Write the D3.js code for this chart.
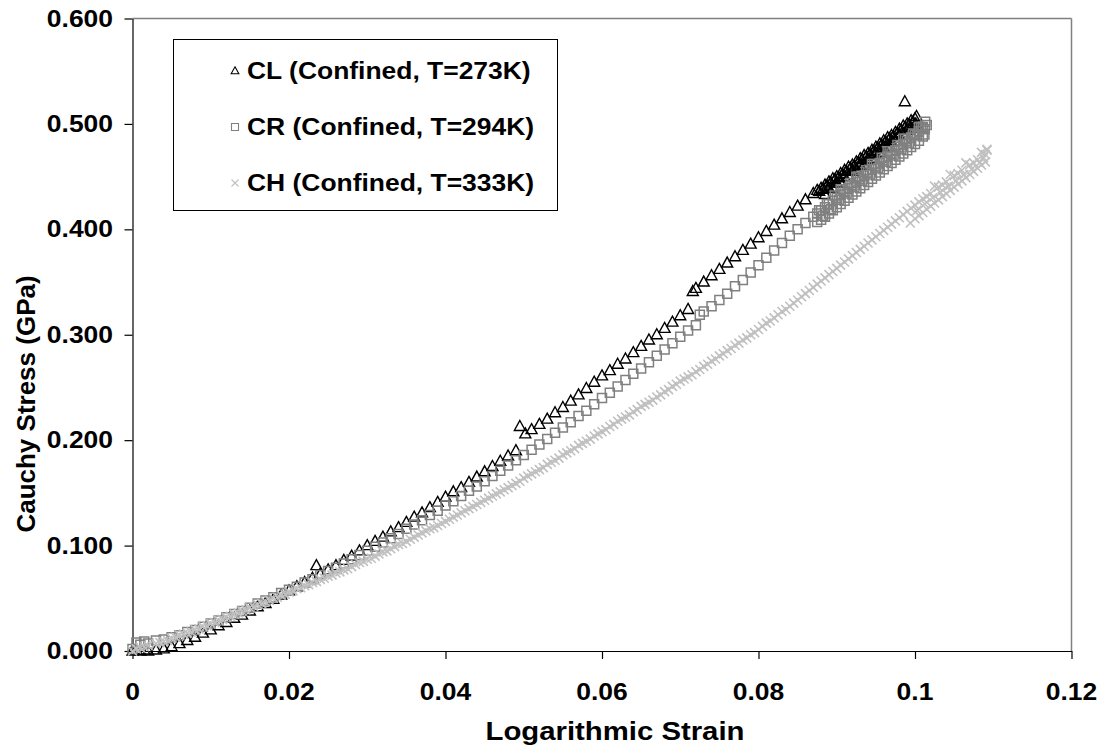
<!DOCTYPE html>
<html><head><meta charset="utf-8">
<script src="https://cdn.jsdelivr.net/npm/d3@7"></script>
<style>
html,body{margin:0;padding:0;background:#fff;}
svg{display:block;}
text{font-family:"Liberation Sans",Arial,sans-serif;font-weight:bold;fill:#000;}
</style></head>
<body>
<svg id="chart" width="1107" height="752"></svg>
<script>
// ---------- data ----------
const xTicks = [0, 0.02, 0.04, 0.06, 0.08, 0.1, 0.12];
const xTickLabels = ["0", "0.02", "0.04", "0.06", "0.08", "0.1", "0.12"];
const yTicks = [0, 0.1, 0.2, 0.3, 0.4, 0.5, 0.6];
const yTickLabels = ["0.000", "0.100", "0.200", "0.300", "0.400", "0.500", "0.600"];
const seriesNames = ["CL (Confined, T=273K)", "CR (Confined, T=294K)", "CH (Confined, T=333K)"];

const clStrain = [0,0.0005,0.001,0.0015,0.002,0.003,0.004,0.005,0.006,0.007,0.008,0.009,0.010,0.011,0.012,0.013,0.014,0.015,0.016,0.017,0.018,0.019,0.020,0.021,0.022,0.023,0.0235,0.024,0.025,0.026,0.027,0.028,0.029,0.030,0.031,0.032,0.033,0.034,0.035,0.036,0.037,0.038,0.039,0.040,0.041,0.042,0.043,0.044,0.045,0.046,0.047,0.048,0.049,0.0495,0.0502,0.051,0.052,0.053,0.054,0.055,0.056,0.057,0.058,0.059,0.060,0.061,0.062,0.063,0.064,0.065,0.066,0.067,0.068,0.069,0.070,0.071,0.0716,0.072,0.073,0.074,0.075,0.076,0.077,0.078,0.079,0.080,0.081,0.082,0.083,0.084,0.085,0.086,0.087,0.088,0.089,0.090,0.091,0.092,0.093,0.094,0.095,0.096,0.097,0.098,0.0987,0.099,0.100,0.1002,
  0.0885,0.0895,0.0905,0.0915,0.0925,0.0935,0.0945,0.0955,0.0965,0.0975,0.0985,0.0995,0.1001,
  0.0875,0.0885,0.0895,0.0905,0.0915,0.0925,0.0935,0.0945,0.0955,0.0965,0.0975,0.0985,0.0995,
  0.089,0.090,0.091,0.092,0.093,0.094,0.095,0.096,0.097,0.098,0.099,0.100,
  0.08825,0.08925,0.09025,0.09125,0.09225,0.09325,0.09425,0.09525,0.09625,0.09725,0.09825,0.09925,
  0.08775,0.08875,0.08975,0.09075,0.09175,0.09275,0.09375,0.09475,0.09575,0.09675,0.09775,0.09875,0.09975];
const clStress = [0,0.001,0,0.001,0,0.001,0.002,0.004,0.007,0.010,0.013,0.017,0.020,0.024,0.027,0.031,0.034,0.038,0.042,0.045,0.049,0.053,0.057,0.061,0.065,0.069,0.081,0.073,0.077,0.081,0.086,0.090,0.095,0.100,0.104,0.108,0.113,0.117,0.122,0.127,0.131,0.136,0.141,0.146,0.151,0.155,0.160,0.165,0.170,0.175,0.180,0.185,0.190,0.213,0.206,0.210,0.215,0.220,0.226,0.231,0.237,0.243,0.249,0.255,0.261,0.266,0.272,0.277,0.283,0.289,0.295,0.300,0.306,0.312,0.318,0.324,0.341,0.344,0.350,0.356,0.362,0.368,0.374,0.380,0.386,0.392,0.398,0.404,0.410,0.416,0.422,0.428,0.434,0.439,0.445,0.450,0.456,0.461,0.467,0.472,0.478,0.484,0.489,0.495,0.521,0.500,0.505,0.507,
  0.433,0.439,0.444,0.450,0.456,0.461,0.467,0.473,0.478,0.484,0.490,0.496,0.500,
  0.437,0.442,0.448,0.453,0.459,0.464,0.470,0.475,0.481,0.487,0.492,0.498,0.503,
  0.439,0.444,0.450,0.455,0.461,0.466,0.472,0.478,0.483,0.489,0.494,0.499,
  0.438,0.444,0.449,0.455,0.460,0.466,0.471,0.477,0.483,0.488,0.494,0.499,
  0.436,0.441,0.447,0.452,0.458,0.463,0.469,0.474,0.480,0.486,0.491,0.497,0.502];

const crStrain = [0,0.0005,0.001,0.0015,0.002,0.003,0.004,0.005,0.006,0.007,0.008,0.009,0.010,0.011,0.012,0.013,0.014,0.015,0.016,0.017,0.018,0.019,0.020,0.021,0.022,0.023,0.024,0.025,0.026,0.027,0.028,0.029,0.030,0.031,0.032,0.033,0.034,0.035,0.036,0.037,0.038,0.039,0.040,0.041,0.042,0.043,0.044,0.045,0.046,0.047,0.048,0.049,0.050,0.051,0.052,0.053,0.054,0.055,0.056,0.057,0.058,0.059,0.060,0.061,0.062,0.063,0.064,0.065,0.066,0.067,0.068,0.069,0.070,0.071,0.072,0.0725,0.073,0.074,0.075,0.076,0.077,0.078,0.079,0.080,0.081,0.082,0.083,0.084,0.085,0.086,0.087,0.088,0.089,0.090,0.091,0.092,0.093,0.094,0.095,0.096,0.097,0.098,0.099,0.100,0.101,0.1015,
  0.0875,0.0885,0.0895,0.0905,0.0915,0.0925,0.0935,0.0945,0.0955,0.0965,0.0975,0.0985,0.0995,0.1005,0.1012,
  0.0905,0.0925,0.0945,0.0965,0.0985,0.1005,0.1013,
  0.0875,0.0885,0.0895,0.0905,0.0915,0.0925,0.0935,0.0945,0.0955,0.0965,0.0975,0.0985,0.0995,0.1005,0.1010,
  0.088,0.089,0.090,0.091,0.092,0.093,0.094,0.095,0.096,0.097,0.098,0.099,0.100,0.101,
  0.08825,0.08925,0.09025,0.09125,0.09225,0.09325,0.09425,0.09525,0.09625,0.09725,0.09825,0.09925,0.10025,0.10125,
  0.08775,0.08875,0.08975,0.09075,0.09175,0.09275,0.09375,0.09475,0.09575,0.09675,0.09775,0.09875,0.09975,0.10075];
const crStress = [0.002,0.008,0.006,0.009,0.007,0.010,0.011,0.013,0.015,0.018,0.020,0.023,0.026,0.029,0.032,0.035,0.038,0.041,0.045,0.048,0.051,0.055,0.058,0.061,0.065,0.068,0.072,0.076,0.079,0.083,0.087,0.091,0.095,0.099,0.103,0.107,0.111,0.116,0.120,0.124,0.129,0.133,0.138,0.142,0.147,0.152,0.156,0.161,0.166,0.171,0.176,0.181,0.186,0.191,0.196,0.201,0.207,0.212,0.217,0.223,0.228,0.234,0.240,0.245,0.251,0.257,0.263,0.268,0.274,0.280,0.286,0.292,0.298,0.304,0.309,0.319,0.322,0.327,0.333,0.339,0.346,0.352,0.359,0.366,0.373,0.380,0.387,0.394,0.400,0.406,0.412,0.418,0.424,0.430,0.436,0.442,0.448,0.454,0.460,0.466,0.472,0.478,0.484,0.490,0.496,0.499,
  0.407,0.412,0.418,0.424,0.430,0.436,0.442,0.448,0.454,0.460,0.466,0.472,0.478,0.484,0.490,
  0.438,0.450,0.462,0.474,0.486,0.497,0.502,
  0.415,0.421,0.427,0.433,0.439,0.445,0.451,0.457,0.463,0.469,0.475,0.481,0.487,0.493,0.497,
  0.409,0.415,0.421,0.427,0.433,0.439,0.445,0.451,0.457,0.463,0.469,0.475,0.481,0.488,
  0.413,0.419,0.428,0.434,0.440,0.446,0.452,0.458,0.464,0.470,0.476,0.482,0.489,0.495,
  0.418,0.424,0.432,0.438,0.444,0.450,0.456,0.462,0.468,0.474,0.480,0.486,0.491,0.497];

const chStrain = [0,0.0005,0.001,0.0015,0.002,0.003,0.004,0.005,0.006,0.007,0.008,0.009,0.010,0.011,0.012,0.013,0.014,0.015,0.016,0.017,0.018,0.019,0.020,0.021,0.022,0.023,0.024,0.025,0.026,0.027,0.028,0.029,0.030,0.031,0.032,0.033,0.034,0.035,0.036,0.037,0.038,0.039,0.040,0.041,0.042,0.043,0.044,0.045,0.046,0.047,0.048,0.049,0.050,0.051,0.052,0.053,0.054,0.055,0.056,0.057,0.058,0.059,0.060,0.061,0.062,0.063,0.064,0.065,0.066,0.067,0.068,0.069,0.070,0.071,0.072,0.073,0.074,0.075,0.076,0.077,0.078,0.079,0.080,0.081,0.082,0.083,0.084,0.085,0.086,0.087,0.088,0.089,0.090,0.091,0.092,0.093,0.094,0.095,0.096,0.097,0.098,0.099,0.100,0.101,0.102,0.103,0.104,0.105,0.106,0.107,0.108,0.109,0.1092,
  0.0035,0.0045,0.0055,0.0065,0.0075,0.0085,0.0095,0.0105,0.0115,0.0125,0.0135,0.0145,0.0155,0.0165,0.0175,0.0185,0.0195,0.0205,0.0215,0.0225,0.0235,0.0245,0.0255,0.0265,0.0275,0.0285,0.0295,0.0305,0.0315,0.0325,0.0335,0.0345,0.0355,0.0365,0.0375,0.0385,0.0395,0.0405,0.0415,0.0425,0.0435,0.0445,0.0455,0.0465,0.0475,0.0485,0.0495,0.0505,0.0515,0.0525,0.0535,0.0545,0.0555,0.0565,0.0575,0.0585,0.0595,0.0605,0.0615,0.0625,0.0635,0.0645,0.0655,0.0665,0.0675,0.0685,0.0695,0.0705,0.0715,0.0725,0.0735,0.0745,0.0755,0.0765,0.0775,0.0785,0.0795,0.0805,0.0815,0.0825,0.0835,0.0845,0.0855,0.0865,0.0875,0.0885,0.0895,0.0905,0.0915,0.0925,0.0935,0.0945,0.0955,0.0965,0.0975,0.0985,0.0995,0.1005,0.1015,0.1035,0.1055,0.1075,
  0.0994,0.100,0.101,0.102,0.103,0.104,0.105,0.106,0.107,0.108,0.109,
  0.1005,0.1015,0.1025,0.1035,0.1045,0.1055,0.1065,0.1075,0.1085,
  0.1025,0.1045,0.1065,0.1085,0.1092,
  0.10025,0.10125,0.10225,0.10325,0.10425,0.10525,0.10625,0.10725,0.10825,0.10875];
const chStress = [0,0.002,0.003,0.004,0.005,0.007,0.009,0.012,0.015,0.017,0.020,0.023,0.026,0.029,0.032,0.035,0.038,0.041,0.044,0.047,0.050,0.053,0.056,0.059,0.062,0.065,0.068,0.071,0.074,0.077,0.080,0.084,0.087,0.090,0.094,0.097,0.101,0.104,0.108,0.112,0.116,0.119,0.123,0.127,0.131,0.135,0.139,0.143,0.147,0.151,0.155,0.159,0.164,0.168,0.172,0.177,0.181,0.186,0.190,0.195,0.199,0.204,0.208,0.213,0.218,0.222,0.227,0.232,0.236,0.241,0.246,0.251,0.256,0.260,0.265,0.270,0.275,0.280,0.285,0.290,0.295,0.300,0.305,0.311,0.316,0.322,0.327,0.333,0.339,0.345,0.351,0.357,0.363,0.369,0.375,0.381,0.387,0.393,0.399,0.405,0.411,0.417,0.423,0.429,0.434,0.440,0.445,0.451,0.456,0.461,0.466,0.471,0.475,
  0.008,0.010,0.013,0.016,0.018,0.021,0.024,0.027,0.030,0.033,0.036,0.039,0.042,0.045,0.048,0.051,0.054,0.057,0.060,0.063,0.066,0.069,0.072,0.075,0.078,0.082,0.085,0.088,0.092,0.095,0.099,0.102,0.106,0.110,0.114,0.117,0.121,0.125,0.129,0.133,0.137,0.141,0.145,0.149,0.153,0.157,0.161,0.166,0.170,0.174,0.179,0.183,0.188,0.192,0.197,0.201,0.206,0.210,0.215,0.220,0.224,0.229,0.234,0.238,0.243,0.248,0.253,0.258,0.262,0.267,0.272,0.277,0.282,0.287,0.292,0.297,0.302,0.308,0.313,0.319,0.324,0.330,0.336,0.342,0.348,0.354,0.360,0.366,0.372,0.378,0.384,0.390,0.396,0.402,0.408,0.414,0.420,0.426,0.431,0.442,0.453,0.463,
  0.406,0.410,0.416,0.422,0.428,0.434,0.440,0.446,0.452,0.458,0.464,
  0.413,0.419,0.425,0.431,0.437,0.443,0.449,0.455,0.461,
  0.441,0.452,0.463,0.473,0.476,
  0.418,0.424,0.430,0.435,0.441,0.446,0.452,0.457,0.463,0.468];

// ---------- layout ----------
const svg = d3.select("#chart");
const SX = 1.15; // horizontal stretch of the reference's lettering
const x = d3.scaleLinear().domain([0, 0.12]).range([132.5, 1071.5]);
const y = d3.scaleLinear().domain([0, 0.6]).range([651, 18.5]);

svg.append("rect").attr("width",1107).attr("height",752).attr("fill","#fff");

// plot frame (top/right in gray)
svg.append("line").attr("x1",x(0)).attr("x2",x(0.12)).attr("y1",y(0.6)).attr("y2",y(0.6))
  .attr("stroke","#808080").attr("stroke-width",1.5);
svg.append("line").attr("x1",x(0.12)).attr("x2",x(0.12)).attr("y1",y(0.6)).attr("y2",y(0))
  .attr("stroke","#808080").attr("stroke-width",1.5);

// axes
const gx = svg.append("g").attr("transform",`translate(0,${y(0)})`)
  .call(d3.axisBottom(x).tickValues(xTicks).tickSize(8).tickSizeOuter(0).tickFormat(""));
const gy = svg.append("g").attr("transform",`translate(${x(0)},0)`)
  .call(d3.axisLeft(y).tickValues(yTicks).tickSize(8).tickSizeOuter(0).tickFormat(""));
[gx,gy].forEach(g=>{
  g.select(".domain").attr("stroke","#000").attr("stroke-width",1.2);
  g.selectAll(".tick line").attr("stroke","#000").attr("stroke-width",1.2);
});

function stretchedText(px, py, str, anchor, size){
  return svg.append("text")
    .attr("transform",`translate(${px},${py}) scale(${SX},1)`)
    .attr("text-anchor",anchor)
    .style("font-size",size+"px")
    .text(str);
}
xTicks.forEach((v,i)=> stretchedText(x(v), 700, xTickLabels[i], "middle", 23));
yTicks.forEach((v,i)=> stretchedText(113, y(v)+8, yTickLabels[i], "end", 23));

stretchedText(615, 740, "Logarithmic Strain", "middle", 25.5);
svg.append("text")
  .attr("transform","translate(35,404) rotate(-90)")
  .attr("text-anchor","middle")
  .style("font-size","26px")
  .text("Cauchy Stress (GPa)");

// ---------- markers ----------
const triPath = s => `M0,${-s*0.6}L${s*0.55},${s*0.4}L${-s*0.55},${s*0.4}Z`;
const sqPath = s => `M${-s/2},${-s/2}h${s}v${s}h${-s}Z`;
const xPath = s => `M${-s/2},${-s/2}L${s/2},${s/2}M${-s/2},${s/2}L${s/2},${-s/2}`;

const styles = [
  {path: triPath, color:"#000000", size:10, sw:1.4},
  {path: sqPath, color:"#808080", size:9, sw:1.5},
  {path: xPath, color:"#c0c0c0", size:9, sw:1.6}
];
const series = [
  clStrain.map((s,i)=>[s, clStress[i]]),
  crStrain.map((s,i)=>[s, crStress[i]]),
  chStrain.map((s,i)=>[s, chStress[i]])
];

series.forEach((data,k)=>{
  const st = styles[k];
  svg.append("g").selectAll("path").data(data).join("path")
    .attr("transform", d=>`translate(${x(d[0])},${y(d[1])})`)
    .attr("d", st.path(st.size))
    .attr("fill","none")
    .attr("stroke", st.color)
    .attr("stroke-width", st.sw);
});

// ---------- legend ----------
const lg = svg.append("g");
lg.append("rect").attr("x",173.5).attr("y",39.5).attr("width",384).attr("height",171)
  .attr("fill","#fff").attr("stroke","#000").attr("stroke-width",1);
const rowY = [71, 127, 183];
seriesNames.forEach((name,k)=>{
  const st = styles[k];
  lg.append("path").attr("transform",`translate(235,${rowY[k]})`)
    .attr("d", st.path(7)).attr("fill","none").attr("stroke",st.color).attr("stroke-width",1.1);
  lg.append("text")
    .attr("transform",`translate(247,${rowY[k]+8}) scale(${SX},1)`)
    .style("font-size","23px").text(name);
});
</script>
</body></html>
